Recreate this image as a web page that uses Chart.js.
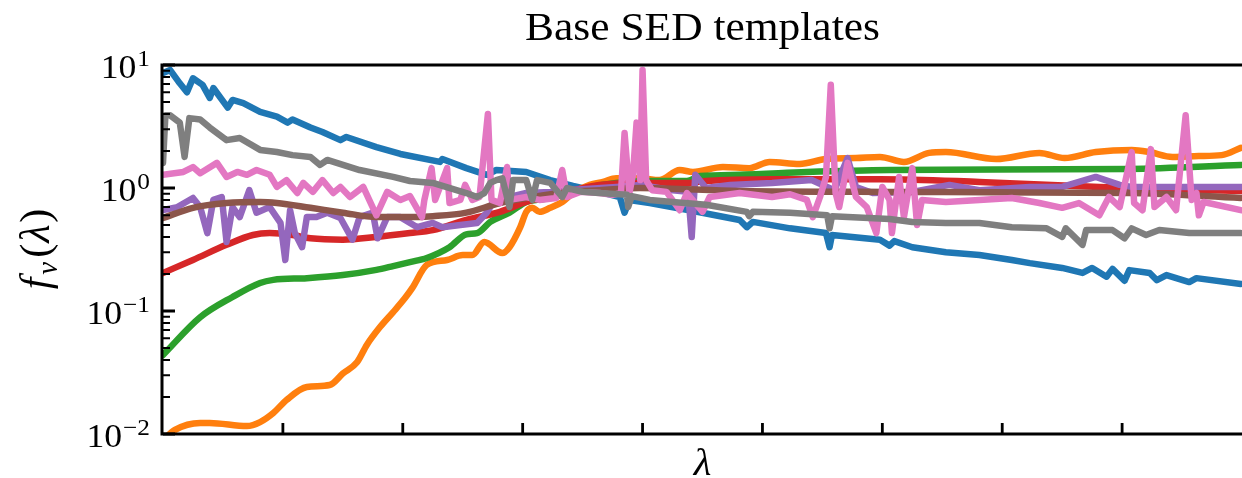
<!DOCTYPE html>
<html>
<head>
<meta charset="utf-8">
<title>Base SED templates</title>
<script src="https://cdn.jsdelivr.net/npm/chart.js@4.4.1/dist/chart.umd.min.js"></script>
<style>
  html, body { margin: 0; padding: 0; background: #fff; }
  #grafica { display: block; }
</style>
</head>
<body>
<canvas id="grafica" width="1242" height="478"></canvas>
<script>
// x axis has no tick labels in the original, so x is in "tick units"
const xTicks = [1, 2, 3, 4, 5, 6, 7, 8];
const yDecades = [0.01, 0.1, 1, 10];
const yExpLabels = ["\u22122", "\u22121", "0", "1"];

// C0 blue
const blueX = [0.00, 0.06, 0.14, 0.20, 0.25, 0.33, 0.39, 0.42, 0.54, 0.58, 0.67, 0.81, 0.95, 1.04, 1.08, 1.23, 1.33, 1.48, 1.53, 1.78,
  1.98, 2.31, 2.33, 2.53, 2.70, 2.78, 3.03, 3.23, 3.42, 3.64, 3.81, 3.85, 3.89, 4.06, 4.39, 4.81, 4.87, 4.92, 5.23, 5.53,
  5.56, 5.58, 5.98, 6.06, 6.10, 6.25, 6.53, 6.81, 7.08, 7.23, 7.50, 7.67, 7.75, 7.87, 7.92, 8.02, 8.06, 8.23, 8.29, 8.37,
  8.56, 8.62, 8.99];
const blueY = [8.6, 9.1, 7.1, 6.0, 7.8, 6.9, 5.4, 6.5, 4.5, 5.2, 4.9, 4.15, 3.8, 3.4, 3.6, 3.1, 2.85, 2.45, 2.6, 2.15,
  1.89, 1.63, 1.72, 1.45, 1.28, 1.4, 1.35, 1.16, 1.04, 0.93, 0.845, 0.63, 0.80, 0.755, 0.66, 0.55, 0.48, 0.53, 0.47, 0.43,
  0.33, 0.415, 0.38, 0.34, 0.37, 0.33, 0.30, 0.285, 0.26, 0.245, 0.224, 0.204, 0.224, 0.19, 0.22, 0.176, 0.215, 0.204, 0.178, 0.196,
  0.172, 0.185, 0.166];

// C1 orange
const orangeX = [0.00, 0.10, 0.31, 0.39, 0.70, 0.81, 0.92, 1.03, 1.20, 1.39, 1.50, 1.62, 1.70, 1.81, 1.92, 2.02, 2.08, 2.20, 2.37, 2.50,
  2.58, 2.68, 2.83, 2.89, 2.98, 3.03, 3.08, 3.14, 3.23, 3.33, 3.42, 3.56, 3.67, 3.78, 3.98, 4.14, 4.31, 4.42, 4.67, 4.89,
  5.06, 5.31, 5.53, 5.78, 5.98, 6.18, 6.39, 6.53, 6.95, 7.31, 7.52, 7.78, 8.08, 8.23, 8.42, 8.64, 8.83, 8.99];
const orangeY = [0.0089, 0.0108, 0.0123, 0.0123, 0.0116, 0.0125, 0.0148, 0.0189, 0.0241, 0.025, 0.031, 0.0385, 0.053, 0.074, 0.098, 0.128, 0.154, 0.237, 0.26, 0.285,
  0.285, 0.364, 0.296, 0.33, 0.48, 0.64, 0.69, 0.64, 0.69, 0.77, 0.91, 1.06, 1.12, 1.2, 1.2, 1.16, 1.4, 1.35, 1.48, 1.45,
  1.63, 1.57, 1.72, 1.75, 1.79, 1.63, 1.93, 1.96, 1.72, 1.93, 1.75, 1.96, 2.04, 1.96, 1.79, 1.82, 1.85, 2.12];

// C2 green
const greenX = [0.00, 0.31, 0.58, 0.81, 0.92, 1.20, 1.50, 1.78, 1.92, 2.06, 2.20, 2.39, 2.53, 2.62, 2.73, 2.89, 3.03, 3.12, 3.23, 3.37,
  3.53, 3.78, 4.06, 4.37, 4.48, 4.81, 5.37, 6.06, 8.06, 8.99];
const greenY = [0.0439, 0.089, 0.13, 0.169, 0.179, 0.185, 0.196, 0.216, 0.232, 0.25, 0.27, 0.33, 0.42, 0.43, 0.53, 0.63, 0.77, 0.80, 0.83, 0.91,
  1.0, 1.1, 1.14, 1.14, 1.25, 1.28, 1.35, 1.40, 1.43, 1.54];

// C3 red
const redX = [0.00, 0.25, 0.53, 0.75, 0.89, 1.08, 1.23, 1.50, 1.78, 2.06, 2.25, 2.53, 2.81, 3.03, 3.37, 3.64, 3.98, 4.39, 4.53, 5.08,
  5.98, 6.81, 7.81, 8.99];
const redY = [0.204, 0.26, 0.345, 0.415, 0.43, 0.415, 0.39, 0.38, 0.40, 0.43, 0.455, 0.55, 0.64, 0.77, 0.93, 1.06, 1.10, 1.10, 1.14, 1.18,
  1.18, 1.12, 1.02, 0.945];

// C4 purple
const purpleX = [0.00, 0.12, 0.25, 0.31, 0.37, 0.42, 0.49, 0.53, 0.58, 0.64, 0.72, 0.78, 0.89, 0.98, 1.02, 1.06, 1.10, 1.16, 1.20, 1.28,
  1.37, 1.48, 1.58, 1.64, 1.75, 1.79, 1.87, 1.98, 2.12, 2.25, 2.33, 2.48, 2.62, 2.70, 2.75, 2.81, 2.89, 3.03, 3.23, 3.37,
  3.78, 3.98, 4.25, 4.38, 4.41, 4.44, 4.53, 4.73, 5.08, 5.41, 5.60, 5.71, 5.78, 5.92, 6.25, 6.56, 6.81, 7.23, 7.50, 7.78,
  7.98, 8.08, 8.99];
const purpleY = [0.66, 0.70, 0.83, 0.70, 0.43, 0.80, 0.845, 0.364, 0.70, 0.58, 0.96, 0.63, 0.70, 0.52, 0.26, 0.66, 0.43, 0.33, 0.58, 0.58,
  0.63, 0.57, 0.38, 0.58, 0.63, 0.39, 0.58, 0.58, 0.48, 0.52, 0.48, 0.50, 0.52, 0.63, 0.755, 0.755, 0.845, 0.91, 0.93, 0.96,
  1.02, 1.06, 0.96, 0.93, 0.40, 1.28, 1.00, 1.06, 1.10, 1.16, 0.96, 1.75, 1.02, 0.91, 0.93, 1.06, 0.96, 1.02, 1.02, 1.23,
  1.06, 1.02, 1.02];

// C5 brown
const brownX = [0.00, 0.25, 0.53, 0.81, 0.95, 1.23, 1.50, 1.78, 2.06, 2.25, 2.53, 2.81, 3.08, 3.37, 3.64, 3.98, 4.81, 6.06, 8.06, 8.99];
const brownY = [0.57, 0.69, 0.755, 0.77, 0.755, 0.69, 0.63, 0.58, 0.58, 0.59, 0.63, 0.755, 0.845, 0.93, 0.96, 1.0, 0.945, 0.93, 0.91, 0.83];

// C6 pink
const pinkX = [0.00, 0.17, 0.25, 0.31, 0.45, 0.53, 0.62, 0.70, 0.78, 0.89, 0.95, 1.03, 1.12, 1.17, 1.25, 1.33, 1.42, 1.48, 1.56, 1.67,
  1.78, 1.87, 1.98, 2.06, 2.16, 2.18, 2.24, 2.27, 2.37, 2.39, 2.48, 2.52, 2.58, 2.64, 2.71, 2.74, 2.81, 2.87, 2.89, 3.03,
  3.14, 3.28, 3.33, 3.37, 3.48, 3.64, 3.75, 3.82, 3.85, 3.89, 3.92, 3.95, 3.98, 4.00, 4.03, 4.08, 4.20, 4.31, 4.37, 4.50,
  4.56, 4.81, 5.08, 5.23, 5.37, 5.42, 5.48, 5.53, 5.57, 5.61, 5.64, 5.71, 5.78, 5.87, 5.95, 6.00, 6.06, 6.08, 6.14, 6.18,
  6.25, 6.29, 6.33, 6.53, 6.81, 7.08, 7.31, 7.50, 7.64, 7.81, 7.89, 7.98, 8.08, 8.10, 8.17, 8.24, 8.27, 8.37, 8.45, 8.53,
  8.58, 8.62, 8.64, 8.68, 8.99];
const pinkY = [1.28, 1.35, 1.48, 1.32, 1.60, 1.23, 1.35, 1.28, 1.40, 1.28, 1.02, 1.16, 0.91, 1.10, 0.93, 1.16, 0.91, 1.02, 0.845, 1.02,
  0.60, 0.93, 0.80, 0.86, 0.58, 0.80, 1.45, 0.80, 1.45, 0.755, 0.80, 1.06, 0.80, 0.845, 4.0, 0.80, 0.755, 1.48, 0.80, 0.845,
  0.80, 0.83, 1.40, 0.845, 0.93, 0.91, 0.88, 0.91, 2.8, 0.91, 1.28, 3.4, 1.16, 9.1, 1.16, 0.96, 0.93, 0.66, 0.91, 0.64,
  0.845, 0.91, 0.845, 0.89, 0.80, 0.58, 0.845, 1.23, 6.9, 0.91, 0.70, 1.60, 0.845, 0.70, 0.43, 1.02, 0.80, 0.43, 1.23, 0.58,
  1.45, 0.50, 0.80, 0.77, 0.80, 0.83, 0.755, 0.69, 0.755, 0.60, 0.845, 0.70, 1.96, 0.755, 0.66, 2.07, 0.70, 0.845, 0.66, 3.9,
  0.80, 0.91, 0.60, 0.77, 0.66];

// C7 gray
const grayX = [0.00, 0.02, 0.06, 0.14, 0.18, 0.22, 0.31, 0.39, 0.53, 0.64, 0.81, 0.95, 1.08, 1.23, 1.31, 1.37, 1.64, 1.92, 2.06, 2.25,
  2.53, 2.62, 2.68, 2.73, 2.78, 2.83, 2.89, 2.92, 3.03, 3.08, 3.12, 3.23, 3.33, 3.37, 3.50, 3.64, 3.87, 3.88, 3.91, 4.06,
  4.25, 4.53, 4.87, 4.89, 4.92, 5.23, 5.54, 5.56, 5.58, 6.06, 6.25, 6.53, 6.81, 7.08, 7.37, 7.50, 7.53, 7.67, 7.70, 7.92,
  8.02, 8.08, 8.20, 8.31, 8.56, 8.99];
const grayY = [1.6, 3.9, 3.9, 3.4, 1.79, 3.7, 3.6, 3.1, 2.45, 2.55, 2.04, 1.96, 1.85, 1.79, 1.54, 1.69, 1.40, 1.23, 1.14, 1.10,
  0.91, 0.845, 0.91, 1.10, 1.16, 1.20, 0.70, 1.16, 1.16, 0.80, 1.16, 1.10, 0.845, 1.00, 0.93, 0.91, 0.88, 0.70, 0.86, 0.80,
  0.77, 0.73, 0.64, 0.59, 0.64, 0.63, 0.60, 0.47, 0.59, 0.56, 0.53, 0.52, 0.52, 0.48, 0.47, 0.40, 0.47, 0.345, 0.455, 0.455,
  0.39, 0.47, 0.415, 0.455, 0.43, 0.43];

const series = [
  [blueX, blueY, "#1f77b4", false],
  [orangeX, orangeY, "#ff7f0e", true],
  [greenX, greenY, "#2ca02c", true],
  [redX, redY, "#d62728", true],
  [purpleX, purpleY, "#9467bd", false],
  [brownX, brownY, "#8c564b", true],
  [pinkX, pinkY, "#e377c2", false],
  [grayX, grayY, "#7f7f7f", false]
];

// text with a small horizontal stretch, like the original figure
function texto(ctx, s, x, y, font, align, sx) {
  ctx.save();
  ctx.translate(x, y);
  ctx.scale(sx || 1, 1);
  ctx.font = font;
  ctx.textAlign = align;
  ctx.textBaseline = "alphabetic";
  ctx.fillText(s, 0, 0);
  ctx.restore();
}

const ejes = {
  id: "ejes",
  afterDraw(chart) {
    const { ctx, chartArea: a } = chart;
    const sx = chart.scales.x, sy = chart.scales.y;
    ctx.save();
    ctx.strokeStyle = "#000";
    ctx.fillStyle = "#000";

    // inward ticks
    ctx.lineWidth = 2.8;
    ctx.beginPath();
    xTicks.forEach(v => {
      const px = sx.getPixelForValue(v);
      ctx.moveTo(px, a.bottom);
      ctx.lineTo(px, a.bottom - 11);
    });
    yDecades.forEach(d => {
      const py = sy.getPixelForValue(d);
      ctx.moveTo(a.left, py);
      ctx.lineTo(a.left + 12, py);
    });
    ctx.stroke();
    ctx.lineWidth = 2;
    ctx.beginPath();
    yDecades.slice(0, -1).forEach(d => {
      for (let m = 2; m <= 9; m++) {
        const py = sy.getPixelForValue(d * m);
        ctx.moveTo(a.left, py);
        ctx.lineTo(a.left + 7, py);
      }
    });
    ctx.stroke();

    // spines (right one is cut off in the original)
    ctx.lineWidth = 3;
    ctx.beginPath();
    ctx.moveTo(a.right, a.top);
    ctx.lineTo(a.left - 1, a.top);
    ctx.lineTo(a.left - 1, a.bottom);
    ctx.lineTo(a.right, a.bottom);
    ctx.stroke();

    // y tick labels 10^n
    const derecha = 150;
    yDecades.forEach((d, i) => {
      const py = sy.getPixelForValue(d);
      const exp = yExpLabels[i];
      ctx.font = "23px 'Liberation Serif'";
      const we = ctx.measureText(exp).width * 1.1;
      texto(ctx, exp, derecha - we, py + 1, "23px 'Liberation Serif'", "left", 1.1);
      texto(ctx, "10", derecha - we - 1, py + 13, "34px 'Liberation Serif'", "right", 1.05);
    });

    // title
    const cx = (a.left + a.right) / 2;
    texto(ctx, "Base SED templates", cx, 40, "41px 'Liberation Serif'", "center", 1.06);

    // x label
    texto(ctx, "\u03bb", cx, 475, "italic 37px 'Liberation Serif'", "center", 1.1);

    // y label f_nu(lambda), rotated
    ctx.save();
    ctx.translate(49, 249);
    ctx.rotate(-Math.PI / 2);
    const partes = [
      ["f", "italic 42px 'Liberation Serif'", 0, 3],
      ["\u03bd", "italic 29px 'Liberation Serif'", 8, 4],
      ["(", "42px 'Liberation Serif'", 0, 1],
      ["\u03bb", "italic 42px 'Liberation Serif'", 0, 2],
      [")", "42px 'Liberation Serif'", 0, 0]
    ];
    let total = 0;
    partes.forEach(p => { ctx.font = p[1]; total += ctx.measureText(p[0]).width + p[3]; });
    let pos = -total / 2;
    ctx.textAlign = "left";
    ctx.textBaseline = "alphabetic";
    partes.forEach(p => {
      ctx.font = p[1];
      ctx.fillText(p[0], pos, p[2]);
      pos += ctx.measureText(p[0]).width + p[3];
    });
    ctx.restore();

    ctx.restore();
  }
};

const ctx = document.getElementById("grafica");

const datasets = series.map(([xs, ys, color, suave], i) => ({
  data: xs.map((x, k) => ({ x: x, y: ys[k] })),
  borderColor: color,
  backgroundColor: color,
  borderWidth: 6.5,
  pointRadius: 0,
  fill: false,
  clip: 0,
  order: series.length - 1 - i,
  tension: 0,
  cubicInterpolationMode: suave ? "monotone" : "default",
  borderJoinStyle: "round",
  borderCapStyle: "round"
}));

new Chart(ctx, {
  type: "line",
  data: { datasets },
  options: {
    responsive: false,
    animation: false,
    layout: { padding: { left: 163, top: 65, right: 0, bottom: 44 } },
    plugins: {
      legend: { display: false },
      tooltip: { enabled: false }
    },
    scales: {
      x: { type: "linear", display: false, min: 0, max: 9 },
      y: { type: "logarithmic", display: false, min: 0.01, max: 10 }
    }
  },
  plugins: [ejes]
});
</script>
</body>
</html>
